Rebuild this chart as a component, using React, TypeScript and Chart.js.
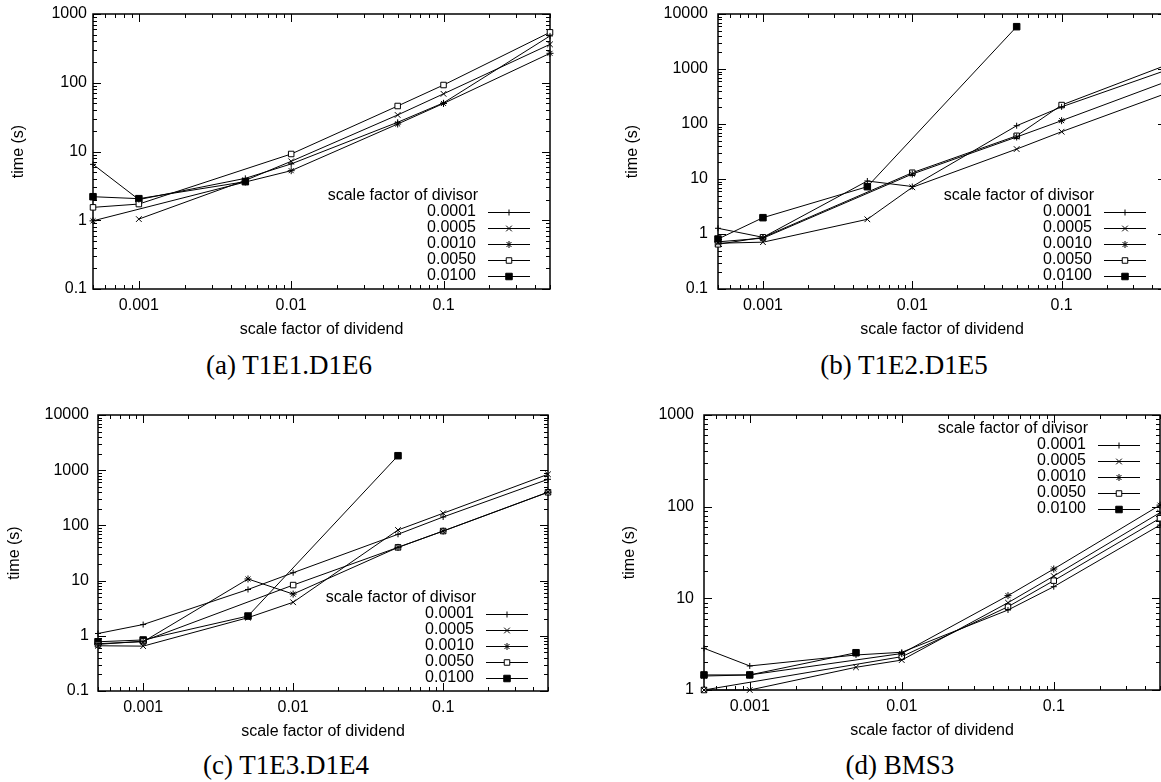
import React, { useEffect, useRef } from "react";
import { Chart, registerables } from "chart.js";
import { drawPoint } from "chart.js/helpers";

Chart.register(...registerables);

const FONT = '"Liberation Sans", Arial, Helvetica, sans-serif';
const SERIF = '"Liberation Serif", "Times New Roman", serif';

// ---------------- data ----------------
const dividendFactors = [0.0005, 0.001, 0.005, 0.01, 0.05, 0.1, 0.5];
const divisorFactors = ["0.0001", "0.0005", "0.0010", "0.0050", "0.0100"];
const xTickLabels = ["0.001", "0.01", "0.1"];
const yTickLabelsSmall = ["0.1", "1", "10", "100", "1000"];
const yTickLabelsLarge = ["0.1", "1", "10", "100", "1000", "10000"];
const yTickLabelsBms = ["1", "10", "100", "1000"];

// (a) T1E1.D1E6
const a0001 = [6.5, 2.0, 4.07, 6.6, 26.6, 51, 480];
const a0005 = [null, 1.04, 3.8, 7.2, 34, 69, 362];
const a0010 = [0.98, null, 3.6, 5.26, 25.1, 50, 268];
const a0050 = [1.54, 1.72, null, 9.2, 45.9, 92.7, 541];
const a0100 = [2.2, 2.06, 3.64, null, null, null, null];

// (b) T1E2.D1E5
const b0001 = [1.27, 0.87, 9.2, 7.3, 93, 205, 946];
const b0005 = [0.68, 0.71, 1.85, 7.06, 35, 72.4, 359];
const b0010 = [0.72, 0.84, null, 12.3, 58, 115, 585];
const b0050 = [0.65, 0.87, null, 13.0, 61, 221, 1170];
const b0100 = [0.81, 1.98, 7.25, null, 5880, null, null];

// (c) T1E3.D1E4
const c0001 = [1.1, 1.6, 6.9, 13.9, 69, 142, 684];
const c0005 = [0.66, 0.65, 2.13, 4.05, 82.6, 166, 843];
const c0010 = [0.72, 0.78, 10.7, 5.7, 40, 79, 400];
const c0050 = [0.7, 0.8, null, 8.3, 40, 79, 398];
const c0100 = [0.78, 0.84, 2.28, null, 1830, null, null];

// (d) BMS3
const d0001 = [2.85, 1.83, 2.41, 2.58, 7.46, 13.4, 63];
const d0005 = [1.0, 1.0, 1.77, 2.12, 8.96, 17.5, 86];
const d0010 = [1.42, 1.46, null, 2.5, 10.7, 20.9, 104];
const d0050 = [1.0, null, null, 2.31, 8.1, 15.6, 74.7];
const d0100 = [1.46, 1.46, 2.55, null, null, null, null];

// ---------------- styles ----------------
const markerStyles = [
  { pointStyle: "cross", radius: 3, fill: "#000" },
  { pointStyle: "crossRot", radius: 4, fill: "#000" },
  { pointStyle: "star", radius: 3.5, fill: "#000" },
  { pointStyle: "rect", radius: 3.9, fill: "#fff" },
  { pointStyle: "rect", radius: 4.6, fill: "#000" },
];

const panels = [
  {
    caption: "(a) T1E1.D1E6",
    series: [a0001, a0005, a0010, a0050, a0100],
    yMin: 0.1, yMax: 1000, yLabels: yTickLabelsSmall,
    cx: 0, cy: 0, cw: 580, ch: 345,
    L: 93, T: 14, R: 550, B: 289,
    yPad: 6, yTitleX: 18.5, capX: 289, capY: 350, legendTop: false,
  },
  {
    caption: "(b) T1E2.D1E5",
    series: [b0001, b0005, b0010, b0050, b0100],
    yMin: 0.1, yMax: 10000, yLabels: yTickLabelsLarge,
    cx: 580, cy: 0, cw: 600, ch: 345,
    L: 718, T: 14, R: 1166, B: 289,
    yPad: 10, yTitleX: 633, capX: 904, capY: 350, legendTop: false,
  },
  {
    caption: "(c) T1E3.D1E4",
    series: [c0001, c0005, c0010, c0050, c0100],
    yMin: 0.1, yMax: 10000, yLabels: yTickLabelsLarge,
    cx: 0, cy: 390, cw: 580, ch: 357,
    L: 98, T: 415, R: 548, B: 691,
    yPad: 9, yTitleX: 15, capX: 286, capY: 750, legendTop: false,
  },
  {
    caption: "(d) BMS3",
    series: [d0001, d0005, d0010, d0050, d0100],
    yMin: 1, yMax: 1000, yLabels: yTickLabelsBms,
    cx: 580, cy: 390, cw: 600, ch: 356,
    L: 704, T: 415, R: 1160, B: 690,
    yPad: 10, yTitleX: 630, capX: 900, capY: 750, legendTop: true,
  },
];

// ---------------- helpers ----------------
function fmt(v: number) {
  return Number(v.toPrecision(6)).toString();
}
function isMajor(v: number) {
  const l = Math.log10(v);
  return Math.abs(l - Math.round(l)) < 1e-6;
}
function makeLogTicks(min: number, max: number) {
  const out: { value: number }[] = [];
  for (let e = Math.floor(Math.log10(min)) - 1; e <= Math.ceil(Math.log10(max)); e++) {
    for (let k = 1; k <= 9; k++) {
      const v = Number((k * Math.pow(10, e)).toPrecision(6));
      if (v >= min * (1 - 1e-9) && v <= max * (1 + 1e-9)) out.push({ value: v });
    }
  }
  return out;
}

const gnuplotPlugin = {
  id: "gnuplot",
  beforeDatasetsDraw(chart: any) {
    const { ctx, chartArea: ca } = chart;
    const xs = chart.scales.x;
    const ys = chart.scales.y;
    ctx.save();
    ctx.strokeStyle = "#000";
    ctx.lineWidth = 1;
    ctx.beginPath();
    xs.ticks.forEach((t: any) => {
      const p = Math.round(xs.getPixelForValue(t.value)) + 0.5;
      const len = isMajor(t.value) ? 8 : 4;
      ctx.moveTo(p, ca.bottom);
      ctx.lineTo(p, ca.bottom - len);
      ctx.moveTo(p, ca.top);
      ctx.lineTo(p, ca.top + len);
    });
    ys.ticks.forEach((t: any) => {
      const p = Math.round(ys.getPixelForValue(t.value)) + 0.5;
      const len = isMajor(t.value) ? 8 : 4;
      ctx.moveTo(ca.left, p);
      ctx.lineTo(ca.left + len, p);
      ctx.moveTo(ca.right, p);
      ctx.lineTo(ca.right - len, p);
    });
    ctx.stroke();
    ctx.lineWidth = 1.5;
    ctx.strokeRect(ca.left, ca.top, ca.right - ca.left, ca.bottom - ca.top);
    ctx.restore();
  },
  afterDatasetsDraw(chart: any, _args: any, opts: any) {
    const { ctx, chartArea: ca } = chart;
    const titleY = opts.legendTop ? ca.top + 14 : ca.bottom - 93;
    const firstY = opts.legendTop ? ca.top + 29.5 : ca.bottom - 77;
    ctx.save();
    ctx.fillStyle = "#000";
    ctx.font = `16px ${FONT}`;
    ctx.textAlign = "right";
    ctx.textBaseline = "middle";
    ctx.fillText("scale factor of divisor", ca.right - 72, titleY);
    chart.data.datasets.forEach((ds: any, i: number) => {
      const y = firstY + i * 16;
      ctx.fillStyle = "#000";
      ctx.fillText(ds.label, ca.right - 74, y);
      ctx.beginPath();
      ctx.lineWidth = 1;
      ctx.strokeStyle = "#000";
      ctx.moveTo(ca.right - 62, Math.round(y) + 0.5);
      ctx.lineTo(ca.right - 20, Math.round(y) + 0.5);
      ctx.stroke();
      ctx.fillStyle = ds.pointBackgroundColor;
      ctx.strokeStyle = "#000";
      ctx.lineWidth = 1;
      drawPoint(ctx, { pointStyle: ds.pointStyle, radius: ds.pointRadius, borderWidth: 1, rotation: 0 }, ca.right - 41, Math.round(y) + 0.5);
    });
    ctx.restore();
  },
};

function Panel({ cfg }: { cfg: any }) {
  const ref = useRef<HTMLCanvasElement>(null);
  useEffect(() => {
    if (!ref.current) return;
    const datasets = cfg.series.map((vals: (number | null)[], s: number) => ({
      label: divisorFactors[s],
      data: dividendFactors
        .map((x, i) => ({ x, y: vals[i] }))
        .filter((p) => p.y !== null && p.y !== undefined),
      borderColor: "#000",
      borderWidth: 1,
      pointStyle: markerStyles[s].pointStyle,
      pointRadius: markerStyles[s].radius,
      pointHoverRadius: markerStyles[s].radius,
      pointBorderWidth: 1,
      pointBorderColor: "#000",
      pointBackgroundColor: markerStyles[s].fill,
      fill: false,
      tension: 0,
      clip: false,
    }));
    const yW = cfg.L - cfg.cx;
    const xH = cfg.cy + cfg.ch - cfg.B;
    const chart = new Chart(ref.current, {
      type: "line",
      data: { datasets },
      plugins: [gnuplotPlugin],
      options: {
        animation: false,
        responsive: false,
        devicePixelRatio: 1,
        events: [],
        layout: {
          padding: { left: 0, top: cfg.T - cfg.cy, right: cfg.cx + cfg.cw - cfg.R, bottom: 0 },
        },
        plugins: {
          legend: { display: false },
          tooltip: { enabled: false },
          gnuplot: { legendTop: cfg.legendTop },
        } as any,
        scales: {
          x: {
            type: "logarithmic",
            position: "bottom",
            min: dividendFactors[0],
            max: dividendFactors[dividendFactors.length - 1],
            grid: { display: false, drawTicks: false },
            border: { display: false },
            afterBuildTicks: (scale: any) => {
              scale.ticks = makeLogTicks(scale.min, scale.max);
            },
            afterFit: (scale: any) => {
              scale.height = xH;
              scale.paddingLeft = 0;
              scale.paddingRight = 0;
            },
            ticks: {
              autoSkip: false,
              maxRotation: 0,
              minRotation: 0,
              padding: 7.4,
              color: "#000",
              font: { family: FONT, size: 16 },
              callback: (v: any) => {
                const s = fmt(Number(v));
                return xTickLabels.includes(s) ? s : "";
              },
            },
            title: {
              display: true,
              text: "scale factor of dividend",
              color: "#000",
              font: { family: FONT, size: 16 },
              padding: { top: 0, bottom: 5.4 },
            },
          },
          y: {
            type: "logarithmic",
            position: "left",
            min: cfg.yMin,
            max: cfg.yMax,
            grid: { display: false, drawTicks: false },
            border: { display: false },
            afterBuildTicks: (scale: any) => {
              scale.ticks = makeLogTicks(scale.min, scale.max);
            },
            afterFit: (scale: any) => {
              scale.width = yW;
              scale.paddingTop = 0;
              scale.paddingBottom = 0;
            },
            ticks: {
              autoSkip: false,
              padding: cfg.yPad,
              color: "#000",
              font: { family: FONT, size: 16 },
              callback: (v: any) => {
                const s = fmt(Number(v));
                return cfg.yLabels.includes(s) ? s : "";
              },
            },
            title: {
              display: true,
              text: "time (s)",
              color: "#000",
              font: { family: FONT, size: 16 },
              padding: { top: cfg.yTitleX - cfg.cx - 9.6, bottom: 0 },
            },
          },
        },
      } as any,
    });
    return () => chart.destroy();
  }, []);
  return (
    <>
      <canvas
        ref={ref}
        width={cfg.cw}
        height={cfg.ch}
        style={{ position: "absolute", left: cfg.cx, top: cfg.cy, width: cfg.cw, height: cfg.ch }}
      />
      <div
        style={{
          position: "absolute",
          left: cfg.capX - 200,
          top: cfg.capY,
          width: 400,
          textAlign: "center",
          fontFamily: SERIF,
          fontSize: 27,
          lineHeight: "30px",
          color: "#000",
          whiteSpace: "pre",
        }}
      >
        {cfg.caption}
      </div>
    </>
  );
}

export default function App() {
  return (
    <div
      style={{
        position: "fixed",
        left: 0,
        top: 0,
        width: 1161,
        height: 782,
        overflow: "hidden",
        background: "#fff",
      }}
    >
      {panels.map((p) => (
        <Panel key={p.caption} cfg={p} />
      ))}
    </div>
  );
}
